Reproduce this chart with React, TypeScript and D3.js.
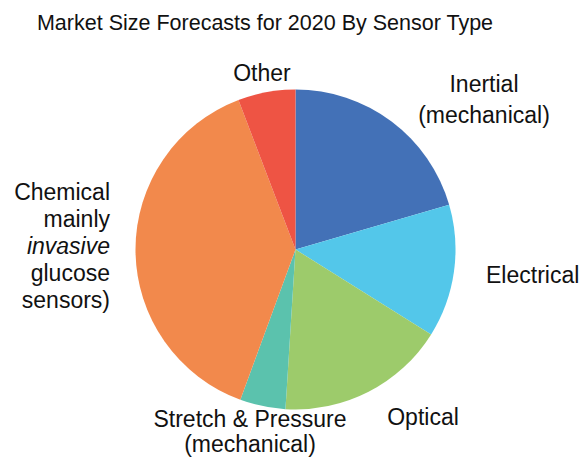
import { useEffect, useRef } from 'react'
import * as d3 from 'd3'

// Market share by sensor type (percent)
const categories = [
  'Inertial (mechanical)',
  'Electrical',
  'Optical',
  'Stretch & Pressure (mechanical)',
  'Chemical (mainly invasive glucose sensors)',
  'Other',
]
const shares = [20.5, 13.4, 17.1, 4.6, 38.6, 5.8]
const colors = ['#4371b7', '#53c7ea', '#9dcb6b', '#5bc2ad', '#f2894c', '#ee5444']

const title = 'Market Size Forecasts for 2020 By Sensor Type'

// label text lines for each slice (italic marked with *)
const labelLines = [
  ['Inertial', '(mechanical)'],
  ['Electrical'],
  ['Optical'],
  ['Stretch & Pressure', '(mechanical)'],
  ['Chemical', 'mainly', '*invasive', 'glucose', 'sensors)'],
  ['Other'],
]

interface Slice {
  name: string
  value: number
  color: string
  lines: string[]
}

export default function App() {
  const ref = useRef<SVGSVGElement>(null)

  useEffect(() => {
    if (!ref.current) return
    const svg = d3.select(ref.current)
    svg.selectAll('*').remove()

    const width = 581
    const height = 460
    const cx = 295.5
    const cy = 249.5
    const radius = 160

    const data: Slice[] = categories.map((name, i) => ({
      name,
      value: shares[i],
      color: colors[i],
      lines: labelLines[i],
    }))

    svg.attr('width', width).attr('height', height)

    svg
      .append('rect')
      .attr('width', width)
      .attr('height', height)
      .attr('fill', '#ffffff')

    // Title
    svg
      .append('text')
      .attr('x', 265)
      .attr('y', 30)
      .attr('text-anchor', 'middle')
      .style('font-family', '"Liberation Sans", Arial, sans-serif')
      .style('font-size', '21.5px')
      .style('fill', '#111')
      .text(title)

    const pie = d3
      .pie<Slice>()
      .sort(null)
      .value((d) => d.value)
      .startAngle(0)
      .endAngle(2 * Math.PI)

    const arc = d3.arc<d3.PieArcDatum<Slice>>().innerRadius(0).outerRadius(radius)

    const g = svg.append('g').attr('transform', `translate(${cx},${cy})`)

    g.selectAll('path')
      .data(pie(data))
      .enter()
      .append('path')
      .attr('d', arc)
      .attr('fill', (d) => d.data.color)

    // Label placement (x, first baseline, anchor) — manual layout like the original slide
    const labelLayout: { x: number; y: number; anchor: string }[] = [
      { x: 484, y: 92, anchor: 'middle' },
      { x: 486, y: 283, anchor: 'start' },
      { x: 423, y: 425, anchor: 'middle' },
      { x: 250, y: 427, anchor: 'middle' },
      { x: 110, y: 200, anchor: 'end' },
      { x: 262, y: 81, anchor: 'middle' },
    ]
    const lineHeight = [31, 0, 0, 25, 27, 0]

    data.forEach((d, i) => {
      const pos = labelLayout[i]
      const t = svg
        .append('text')
        .attr('text-anchor', pos.anchor)
        .style('font-family', '"Liberation Sans", Arial, sans-serif')
        .style('font-size', '23px')
        .style('fill', '#111')
      d.lines.forEach((line, j) => {
        const italic = line.startsWith('*')
        t.append('tspan')
          .attr('x', pos.x)
          .attr('y', pos.y + j * lineHeight[i])
          .style('font-style', italic ? 'italic' : 'normal')
          .text(italic ? line.slice(1) : line)
      })
    })
  }, [])

  return <svg ref={ref} style={{ position: 'absolute', left: 0, top: 0 }} />
}
